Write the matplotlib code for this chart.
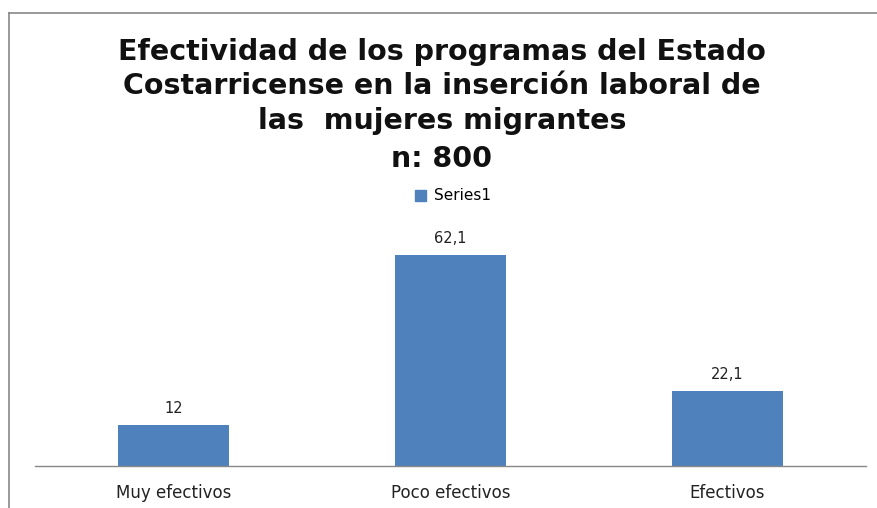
import matplotlib
matplotlib.use("Agg")
import matplotlib.pyplot as plt
from matplotlib.lines import Line2D
from matplotlib.patches import Patch

categories = ["Muy efectivos", "Poco efectivos", "Efectivos"]
values = [12, 62.1, 22.1]
value_labels = ["12", "62,1", "22,1"]
series_name = "Series1"
title_lines = ["Efectividad de los programas del Estado",
               "Costarricense en la inserción laboral de",
               "las  mujeres migrantes",
               "n: 800"]

plt.rcParams['font.family'] = ['DejaVu Sans']

fig = plt.figure(figsize=(8.77, 5.08), dpi=100)
W, H = 877, 508
ax = fig.add_axes([35 / W, (H - 466) / H, 831 / W, 238 / H])

x = list(range(len(categories)))
bars = ax.bar(x, values, width=0.4, color="#4F81BD", label=series_name)
ax.set_xlim(-0.5, len(categories) - 0.5)
ax.set_ylim(0, 70)
for xi, v, lab in zip(x, values, value_labels):
    ax.annotate(lab, (xi, v), xytext=(0, 8.5), textcoords="offset points",
                ha="center", va="baseline", fontsize=10.5, color="#222222")

ax.set_xticks(x)
ax.set_xticklabels(categories, fontsize=12, color="#222222")
ax.tick_params(axis="x", length=0, pad=13)
ax.set_yticks([])
for s in ["top", "right", "left"]:
    ax.spines[s].set_visible(False)
ax.spines["bottom"].set_color("#888888")
ax.spines["bottom"].set_linewidth(1)

title_baselines = [60, 94, 129, 167]
for line, ty in zip(title_lines, title_baselines):
    fig.text(442 / W, 1 - ty / H, line, ha="center", va="baseline", fontsize=20.5,
             fontweight="bold", color="#111111")

fig.legend(handles=[Patch(color="#4F81BD", label=series_name)],
           loc="center", bbox_to_anchor=(453 / W, 1 - 196 / H), frameon=False,
           fontsize=11, handlelength=0.75, handleheight=0.7, handletextpad=0.5)

# border lines
fig.add_artist(Line2D([9 / W, 9 / W], [0, 1 - 13 / H], transform=fig.transFigure,
                      color="#888888", lw=1.2))
fig.add_artist(Line2D([9 / W, 1], [1 - 13 / H, 1 - 13 / H], transform=fig.transFigure,
                      color="#888888", lw=1.2))

fig.savefig("out.png", dpi=100)
